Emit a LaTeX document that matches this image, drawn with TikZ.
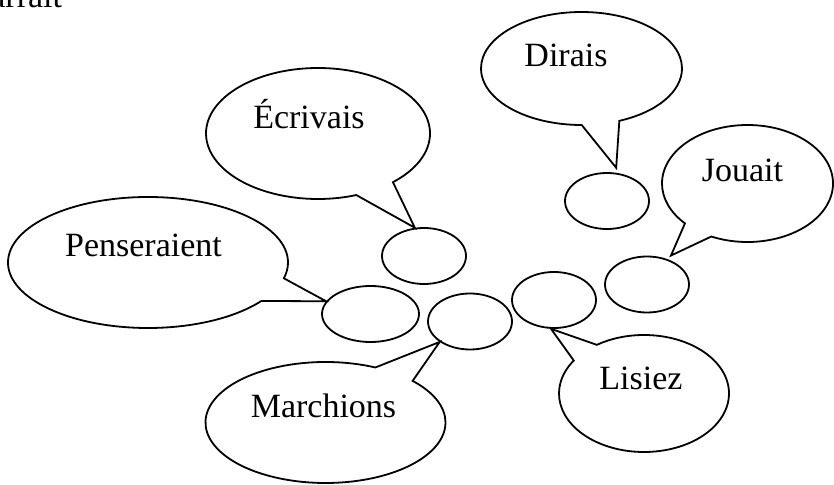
\documentclass[tikz,border=0pt]{standalone}
\usepackage{fontspec}
\setmainfont{Liberation Serif}
\usetikzlibrary{shapes.geometric, shapes.callouts}

\begin{document}
\begin{tikzpicture}[x=0.5pt, y=-0.5pt, line width=0.9pt,
    bubble/.style={draw, ellipse, minimum height=28pt, inner sep=0pt},
    cloud/.style={draw, ellipse callout, callout pointer arc=22, inner sep=0pt},
    word/.style={font=\fontsize{17}{20}\selectfont, inner sep=0pt, anchor=base}]
    \useasboundingbox (0,0) rectangle (834,485);
    \clip (0,0) rectangle (834,485);

    \node[word, anchor=base east] (top) at (63,7.5) {arrait};

    % small bubbles
    \foreach \n/ \x/ \y/ \w in {s1/424/256/42, s2/370.5/314/48.5, s3/470/321.5/42,
                                s4/554/300/42, s5/647/284.5/42, s6/607/201/42}
        \node[bubble, minimum width=\w pt] (\n) at (\x,\y) {};

    % callouts
    \node[cloud, minimum width=112pt, minimum height=65.5pt,
          callout absolute pointer={(s1.108)}] (ecrivais) at (318,133.5) {};
    \node[cloud, minimum width=140pt, minimum height=65.5pt,
          callout absolute pointer={(s2.164)}] (penseraient) at (148,262.5) {};
    \node[cloud, minimum width=120pt, minimum height=60.5pt,
          callout absolute pointer={(s3.214)}] (marchions) at (325.5,422.5) {};
    \node[cloud, minimum width=100.5pt, minimum height=56.5pt,
          callout absolute pointer={([yshift=2.5pt]s6.72)}] (dirais) at (581.5,68.5) {};
    \node[cloud, minimum width=85.5pt, minimum height=58.5pt,
          callout absolute pointer={([yshift=2.5pt]s5.45)}] (jouait) at (747.5,183.5) {};
    \node[cloud, minimum width=85pt, minimum height=58.5pt,
          callout absolute pointer={(s4.264)}] (lisiez) at (644,393.5) {};

    \foreach \n/ \x/ \y/ \t in {ecrivais/309/129/\'Ecrivais, penseraient/143.5/257/Penseraient,
                                marchions/323.5/418/Marchions, dirais/566/66.5/Dirais,
                                jouait/742.5/181.5/Jouait, lisiez/641/390/Lisiez}
        \node[word] (\n-text) at (\x,\y) {\t};

\end{tikzpicture}
\end{document}
